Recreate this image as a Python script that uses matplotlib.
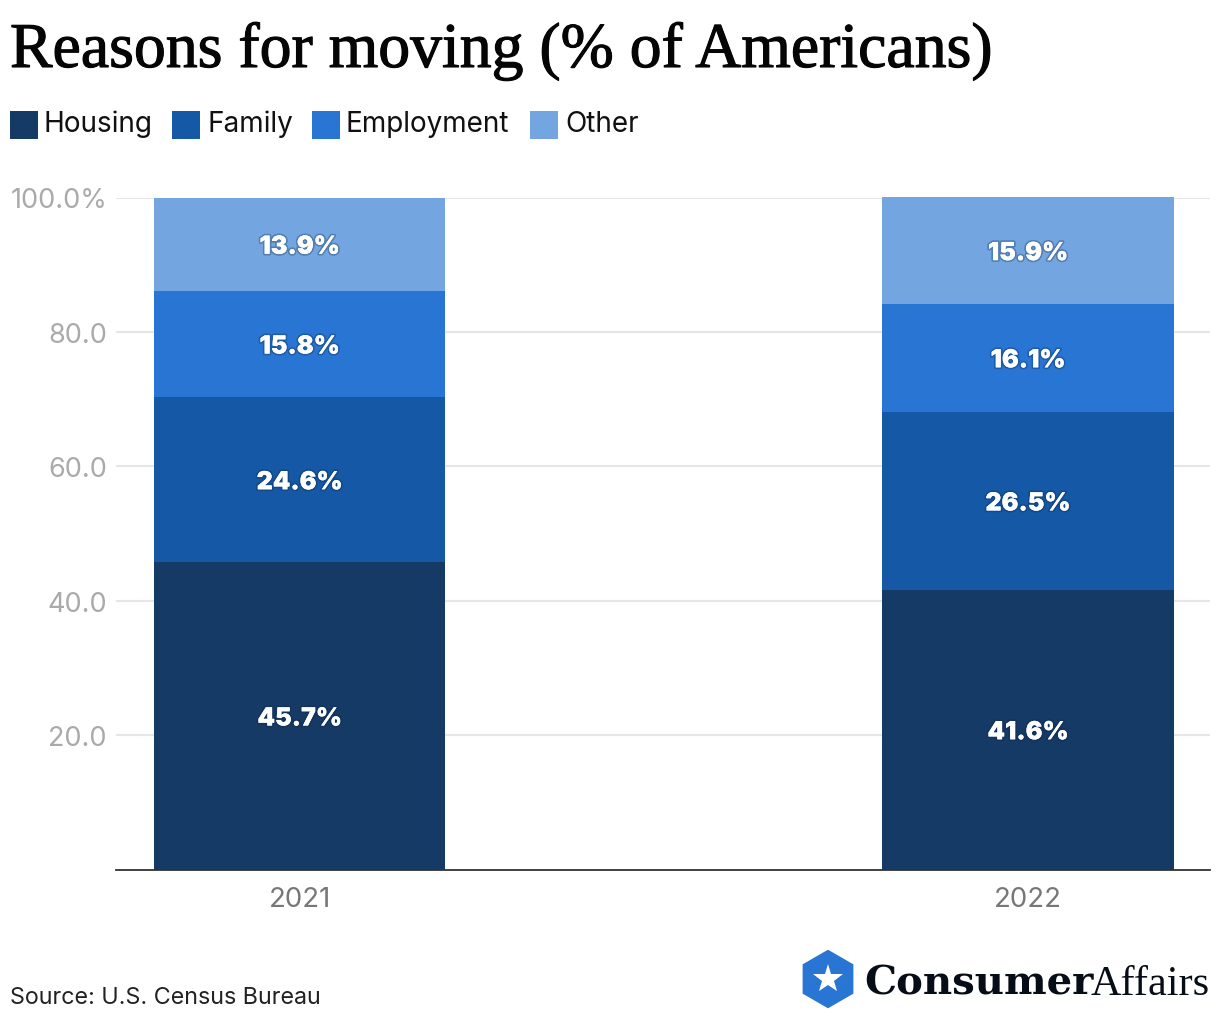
import matplotlib
matplotlib.use('Agg')
import matplotlib.pyplot as plt
import matplotlib.patheffects as pe
from matplotlib.patches import RegularPolygon, Rectangle
import numpy as np

plt.rcParams['font.family'] = ['Inter', 'DejaVu Sans']

# Data
years = ['2021', '2022']
housing = [45.7, 41.6]
family = [24.6, 26.5]
employment = [15.8, 16.1]
other = [13.9, 15.9]
series_names = ['Housing', 'Family', 'Employment', 'Other']
colors = ['#153a66', '#1558a6', '#2975d3', '#73a5e0']
yticks = [20, 40, 60, 80, 100]
ytick_labels = ['20.0', '40.0', '60.0', '80.0', '100.0%']

fig = plt.figure(figsize=(12.2, 10.2), dpi=100)
W, H = 1220, 1020

# Axes box in pixels: x 116-1210, y 198.5-870.5
ax = fig.add_axes([116 / W, 1 - 870.5 / H, (1210 - 116) / W, (870.5 - 198.5) / H])

# Stacked bars
x = np.arange(len(years))
bottom = np.zeros(len(years))
for name, values, color in zip(series_names, [housing, family, employment, other], colors):
    bars = ax.bar(x, values, width=0.4, bottom=bottom, color=color, label=name,
                  clip_on=False, zorder=3)
    labels = ax.bar_label(bars, labels=['%.1f%%' % v for v in values], label_type='center',
                          color='white', fontsize=18, fontweight='black', zorder=4)
    for label in labels:
        label.xyann = (0, -2.2)
        label.set_path_effects([pe.withStroke(linewidth=2.5, foreground='#0b2545', alpha=0.3),
                                pe.Normal()])
    bottom += np.array(values)

ax.set_xlim(-0.252, 1.25)
ax.set_ylim(0, 100)
ax.set_xticks(x)
ax.set_xticklabels(years, fontsize=19.8, color='#777777')
ax.set_yticks(yticks)
ax.set_yticklabels(ytick_labels, fontsize=19.5, color='#aaaaaa')
ax.tick_params(axis='both', length=0)
ax.tick_params(axis='x', pad=12)
ax.tick_params(axis='y', pad=6.5)
ax.grid(axis='y', color='#e6e6e6', linewidth=1.5, zorder=0)
ax.set_axisbelow(True)
for side in ['top', 'left', 'right']:
    ax.spines[side].set_visible(False)
ax.spines['bottom'].set_color('#333333')
ax.spines['bottom'].set_linewidth(1.3)
ax.spines['bottom'].set_zorder(5)

# Title
fig.text(10 / W, 1 - 68 / H, 'Reasons for moving (% of Americans)', fontsize=45.9,
         family='Liberation Serif', color='#050505', va='baseline', ha='left',
         path_effects=[pe.withStroke(linewidth=0.8, foreground='#050505')])

# Overlay in pixel coordinates for legend and logo
over = fig.add_axes([0, 0, 1, 1], facecolor='none')
over.set_xlim(0, W)
over.set_ylim(H, 0)
over.axis('off')

# Legend
swatch_x = [10, 172, 312, 530]
text_x = [44, 207, 345, 565]
for sx, tx, name, color in zip(swatch_x, text_x, series_names, colors):
    over.add_patch(Rectangle((sx, 112), 28, 28, color=color, linewidth=0))
    over.text(tx, 132.5, name, fontsize=20.1, color='#111111', va='baseline', ha='left')

# Source
over.text(10, 1004, 'Source: U.S. Census Bureau', fontsize=16.8, color='#222222', va='baseline')

# Logo
over.add_patch(RegularPolygon((828, 980), 6, radius=28.5, color='#2975d3', joinstyle='round'))
over.plot([828], [980], marker='*', markersize=22, color='white', markeredgewidth=0)
over.text(864, 995, 'Consumer', fontsize=29, family='DejaVu Serif', fontweight='bold',
          color='#070d17', va='baseline', ha='left')
over.text(1210, 995, 'Affairs', fontsize=30.5, family='Liberation Serif',
          color='#070d17', va='baseline', ha='right')

fig.savefig('out.png', dpi=100)
